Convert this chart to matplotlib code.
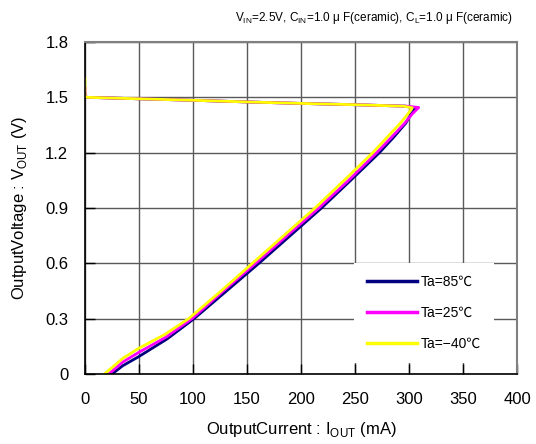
import matplotlib
matplotlib.use("Agg")
import matplotlib.pyplot as plt

plt.rcParams['font.family'] = ['Liberation Sans', 'Noto Sans CJK JP', 'DejaVu Sans']
plt.rcParams['mathtext.fontset'] = 'custom'
plt.rcParams['mathtext.rm'] = 'Liberation Sans'

# output current (mA) / output voltage (V)
i_85 = [0, 0, 2, 50, 100, 150, 200, 250, 297, 306, 302, 297, 286, 272.6, 246, 219, 190, 161, 131, 101, 76, 50, 35, 25]
v_85 = [1.52, 1.505, 1.50, 1.492, 1.484, 1.475, 1.467, 1.460, 1.452, 1.440, 1.41, 1.36, 1.285, 1.20, 1.05, 0.90, 0.75, 0.60, 0.45, 0.30, 0.19, 0.095, 0.045, 0]

i_25 = [0, 0, 2, 50, 100, 150, 200, 250, 298, 309, 303, 296, 284, 270, 244, 216.5, 187, 158, 128, 99, 75, 50, 35, 22]
v_25 = [1.55, 1.505, 1.50, 1.492, 1.484, 1.475, 1.467, 1.460, 1.452, 1.445, 1.41, 1.36, 1.285, 1.20, 1.05, 0.90, 0.75, 0.60, 0.45, 0.30, 0.20, 0.118, 0.065, 0]

i_m40 = [0, 0, 2, 50, 100, 150, 200, 250, 295, 303, 299, 292, 280, 266.5, 240, 213, 184, 155, 126, 96, 74, 50, 35, 18]
v_m40 = [1.60, 1.505, 1.50, 1.492, 1.484, 1.475, 1.467, 1.460, 1.452, 1.443, 1.41, 1.36, 1.285, 1.20, 1.05, 0.90, 0.75, 0.60, 0.45, 0.30, 0.215, 0.14, 0.085, 0]

labels = ["Ta=85℃", "Ta=25℃", "Ta=−40℃"]
colors = ["#000080", "#FF00FF", "#FFFF00"]

x_ticks = [0, 50, 100, 150, 200, 250, 300, 350, 400]
y_ticks = [0, 0.3, 0.6, 0.9, 1.2, 1.5, 1.8]
y_ticklabels = ["0", "0.3", "0.6", "0.9", "1.2", "1.5", "1.8"]

fig = plt.figure(figsize=(5.36, 4.44), dpi=100)
ax = fig.add_axes([85/536, 70/444, 432/536, 332/444])

curves = [(i_85, v_85), (i_25, v_25), (i_m40, v_m40)]
for (xs, ys), lab, col in zip(curves, labels, colors):
    ax.plot(xs, ys, color=col, lw=2.0, label=lab, solid_joinstyle='round')

ax.set_xlim(0, 400)
ax.set_ylim(0, 1.8)
ax.set_xticks(x_ticks)
ax.set_yticks(y_ticks)
ax.set_yticklabels(y_ticklabels)
ax.grid(True, color="#5a5a5a", lw=1.0)
ax.set_axisbelow(True)
ax.tick_params(direction='in', length=7, width=1, labelsize=12, color='black')
ax.tick_params(axis='x', pad=13)
ax.tick_params(axis='y', pad=12)

for s in ['top', 'right']:
    ax.spines[s].set_color('#808080')
    ax.spines[s].set_linewidth(1.5)
for s in ['left', 'bottom']:
    ax.spines[s].set_color('black')
    ax.spines[s].set_linewidth(1.2)

ax.set_xlabel("OutputCurrent : I$_{\\rm OUT}$ (mA)", fontsize=12, labelpad=9)
ax.set_ylabel("OutputVoltage : V$_{\\rm OUT}$ (V)", fontsize=12, labelpad=12)

# legend sits a bit left of the lower-right corner, white box with no edge
leg = ax.legend(loc='lower right', bbox_to_anchor=(1 - 12/432, 0),
                fontsize=10, frameon=True, framealpha=1,
                facecolor='white', edgecolor='none', fancybox=False,
                handlelength=3.6, handletextpad=0.3, labelspacing=1.2,
                borderpad=0.9, borderaxespad=0.8)
for h in leg.get_lines():
    h.set_linewidth(2.5)

fig.text(513/536, 1 - 18/444,
         "V$_{\\rm IN}$=2.5V, C$_{\\rm IN}$=1.0 μ F(ceramic), C$_{\\rm L}$=1.0 μ F(ceramic)",
         ha='right', va='center', fontsize=8.5)

fig.savefig("out.png", dpi=100)
